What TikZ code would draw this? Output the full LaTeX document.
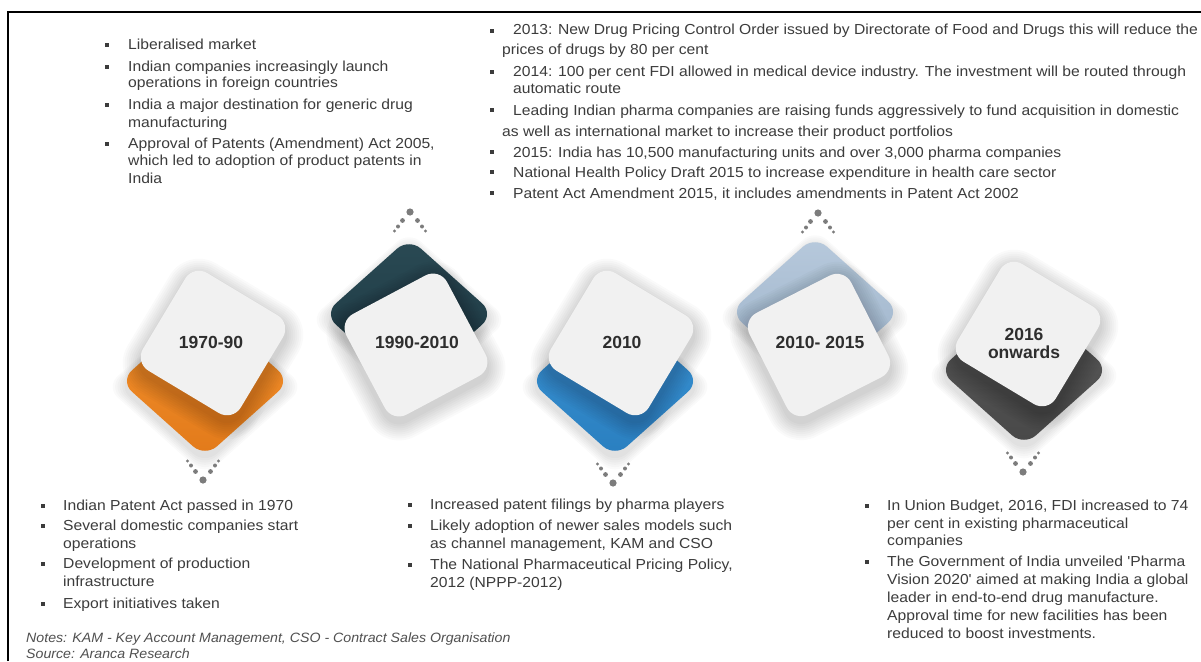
\documentclass[tikz,border=0pt]{standalone}
\usepackage{fontspec}
\setmainfont{Liberation Sans}
\newfontfamily\bodyfont{Liberation Sans}[FakeStretch=1.08]
\newfontfamily\notefont{Liberation Sans}[FakeStretch=1.05]
\definecolor{txt}{HTML}{3C3C3C}
\definecolor{lbl}{HTML}{2E2E2E}
\definecolor{cardgray}{HTML}{F1F1F1}
\definecolor{dotgray}{HTML}{7C7C7C}
\definecolor{notegray}{HTML}{505050}
\tikzset{
  tl/.style={anchor=base west, inner sep=0pt, font=\fontsize{14.5}{17}\bodyfont, text=txt},
  tn/.style={tl, font=\fontsize{13.5}{16}\notefont\itshape, text=notegray},
  bul/.style={rectangle, fill=txt, minimum size=4pt, inner sep=0pt},
  card/.style={rectangle, fill=cardgray, minimum size=114pt, rounded corners=16pt, inner sep=0pt},
  yearlbl/.style={font=\fontsize{17.5}{20}\selectfont\bfseries, text=lbl, align=center, inner sep=0pt},
  pics/rhomb/.style={code={
    \path[rounded corners=16pt, pic actions] (-85,0) -- (0,-76) -- (85,0) -- (0,76) -- cycle;}},
  pics/rhombsh/.style={code={
    \foreach \s in {1,...,6}{
      \fill[black, fill opacity=0.018, rounded corners=16pt, scale={1+\s*0.028}]
        (-85,5) -- (0,-71) -- (85,5) -- (0,81) -- cycle;}}},
  pics/cardsh/.style={code={
    \foreach \s in {2,4,...,18}{
      \fill[black, fill opacity=0.021, rounded corners={16pt+\s pt}]
        (-57-\s,-57-\s) rectangle (57+\s,57+\s);}}},
  pics/chevup/.style={code={
    \fill[dotgray] (0,0) circle[radius=3.6pt];
    \fill[dotgray] (-7.5,8.5) circle[radius=2.4pt] (7.5,8.5) circle[radius=2.4pt];
    \fill[dotgray] (-12,14.5) circle[radius=2pt] (12,14.5) circle[radius=2pt];
    \fill[dotgray] (-15.5,19) circle[radius=1.6pt] (15.5,19) circle[radius=1.6pt];}},
  pics/chevdown/.style={code={
    \fill[dotgray] (0,0) circle[radius=3.6pt];
    \fill[dotgray] (-7.5,-8.5) circle[radius=2.4pt] (7.5,-8.5) circle[radius=2.4pt];
    \fill[dotgray] (-12,-14.5) circle[radius=2pt] (12,-14.5) circle[radius=2pt];
    \fill[dotgray] (-15.5,-19) circle[radius=1.6pt] (15.5,-19) circle[radius=1.6pt];}}
}
\begin{document}
\begin{tikzpicture}[x=1pt,y=-1pt]
\useasboundingbox (0,0) rectangle (1201,661);
\fill[white] (0,0) rectangle (1201,661);
% frame
\draw[line width=2.2pt, black] (8,661) -- (8,12) -- (1201,12);

% colored rhombi (with soft shadows)
\pic (s1) at (205,381) {rhombsh};
\pic[top color={rgb,255:red,244;green,146;blue,46}, bottom color={rgb,255:red,226;green,122;blue,26}] (r1) at (205,381) {rhomb};
\pic (s2) at (409,314) {rhombsh};
\pic[top color={rgb,255:red,42;green,74;blue,84}, bottom color={rgb,255:red,27;green,54;blue,64}] (r2) at (409,314) {rhomb};
\pic (s3) at (615,381) {rhombsh};
\pic[top color={rgb,255:red,58;green,147;blue,211}, bottom color={rgb,255:red,42;green,127;blue,192}] (r3) at (615,381) {rhomb};
\pic (s4) at (815,312) {rhombsh};
\pic[top color={rgb,255:red,183;green,201;blue,220}, bottom color={rgb,255:red,155;green,177;blue,200}] (r4) at (815,312) {rhomb};
\pic (s5) at (1024,370) {rhombsh};
\pic[top color={rgb,255:red,92;green,92;blue,92}, bottom color={rgb,255:red,72;green,72;blue,72}] (r5) at (1024,370) {rhomb};

% card shadows
\pic[rotate=-31] (h1) at (213,349) {cardsh};
\pic[rotate=28] (h2) at (416,351) {cardsh};
\pic[rotate=-31] (h3) at (621,349) {cardsh};
\pic[rotate=27] (h4) at (819,351) {cardsh};
\pic[rotate=-31] (h5) at (1028,340) {cardsh};

% cards
\node[card, rotate=-31] (c1) at (213,343) {};
\node[card, rotate=28] (c2) at (416,345) {};
\node[card, rotate=-31] (c3) at (621,343) {};
\node[card, rotate=27] (c4) at (819,345) {};
\node[card, rotate=-31] (c5) at (1028,334) {};

% year labels
\node[yearlbl] (y1) at (211,342) {1970-90};
\node[yearlbl] (y2) at (417,342) {1990-2010};
\node[yearlbl] (y3) at (622,342) {2010};
\node[yearlbl] (y4) at (820,342) {2010- 2015};
\node[yearlbl] (y5) at (1024,343) {2016\\[-2pt]onwards};

% dotted chevrons
\pic (d1) at (203,480) {chevdown};
\pic (d2) at (410,212) {chevup};
\pic (d3) at (613,483) {chevdown};
\pic (d4) at (818,213) {chevup};
\pic (d5) at (1023,472) {chevdown};

% top-left block
\node[bul] (ba1) at (107,45) {};
\node[tl] (a1) at (128,49) {Liberalised market};
\node[bul] (ba2) at (107,67) {};
\node[tl] (a2) at (128,71) {Indian companies increasingly launch};
\node[tl] (a3) at (128,87) {operations in foreign countries};
\node[bul] (ba3) at (107,105) {};
\node[tl] (a4) at (128,109) {India a major destination for generic drug};
\node[tl] (a5) at (128,127) {manufacturing};
\node[bul] (ba4) at (107,144) {};
\node[tl] (a6) at (128,148) {Approval of Patents (Amendment) Act 2005,};
\node[tl] (a7) at (128,165) {which led to adoption of product patents in};
\node[tl] (a8) at (128,183) {India};

% top-middle block
\node[bul] (bm1) at (492,31) {};
\node[tl] (m1) at (513,35) {2013: New Drug Pricing Control Order issued by Directorate of Food and Drugs this will reduce the};
\node[tl] (m2) at (502,55) {prices of drugs by 80 per cent};
\node[bul] (bm2) at (492,72) {};
\node[tl] (m3) at (513,77) {2014: 100 per cent FDI allowed in medical device industry. The investment will be routed through};
\node[tl] (m4) at (513,93) {automatic route};
\node[bul] (bm3) at (492,110) {};
\node[tl] (m5) at (513,115) {Leading Indian pharma companies are raising funds aggressively to fund acquisition in domestic};
\node[tl] (m6) at (502,136) {as well as international market to increase their product portfolios};
\node[bul] (bm4) at (492,152) {};
\node[tl] (m7) at (513,157) {2015: India has 10,500 manufacturing units and over 3,000 pharma companies};
\node[bul] (bm5) at (492,172) {};
\node[tl] (m8) at (513,177) {National Health Policy Draft 2015 to increase expenditure in health care sector};
\node[bul] (bm6) at (492,193) {};
\node[tl] (m9) at (513,198) {Patent Act Amendment 2015, it includes amendments in Patent Act 2002};

% bottom-left block
\node[bul] (bl1) at (43,506) {};
\node[tl] (l1) at (63,510) {Indian Patent Act passed in 1970};
\node[bul] (bl2) at (43,526) {};
\node[tl] (l2) at (63,530) {Several domestic companies start};
\node[tl] (l3) at (63,548) {operations};
\node[bul] (bl3) at (43,564) {};
\node[tl] (l4) at (63,568) {Development of production};
\node[tl] (l5) at (63,586) {infrastructure};
\node[bul] (bl4) at (43,604) {};
\node[tl] (l6) at (63,608) {Export initiatives taken};

% bottom-middle block
\node[bul] (bb1) at (410,505) {};
\node[tl] (b1) at (430,509) {Increased patent filings by pharma players};
\node[bul] (bb2) at (410,526) {};
\node[tl] (b2) at (430,530) {Likely adoption of newer sales models such};
\node[tl] (b3) at (430,548) {as channel management, KAM and CSO};
\node[bul] (bb3) at (410,565) {};
\node[tl] (b4) at (430,569) {The National Pharmaceutical Pricing Policy,};
\node[tl] (b5) at (430,587) {2012 (NPPP-2012)};

% bottom-right block
\node[bul] (br1) at (867,506) {};
\node[tl] (r1t) at (887,510) {In Union Budget, 2016, FDI increased to 74};
\node[tl] (r2t) at (887,528) {per cent in existing pharmaceutical};
\node[tl] (r3t) at (887,545) {companies};
\node[bul] (br2) at (867,562) {};
\node[tl] (r4t) at (887,566) {The Government of India unveiled 'Pharma};
\node[tl] (r5t) at (887,584) {Vision 2020' aimed at making India a global};
\node[tl] (r6t) at (887,602) {leader in end-to-end drug manufacture.};
\node[tl] (r7t) at (887,620) {Approval time for new facilities has been};
\node[tl] (r8t) at (887,638) {reduced to boost investments.};

% notes
\node[tn] (n1) at (26,642) {Notes: KAM - Key Account Management, CSO - Contract Sales Organisation};
\node[tn] (n2) at (26,658) {Source: Aranca Research};
\end{tikzpicture}
\end{document}
